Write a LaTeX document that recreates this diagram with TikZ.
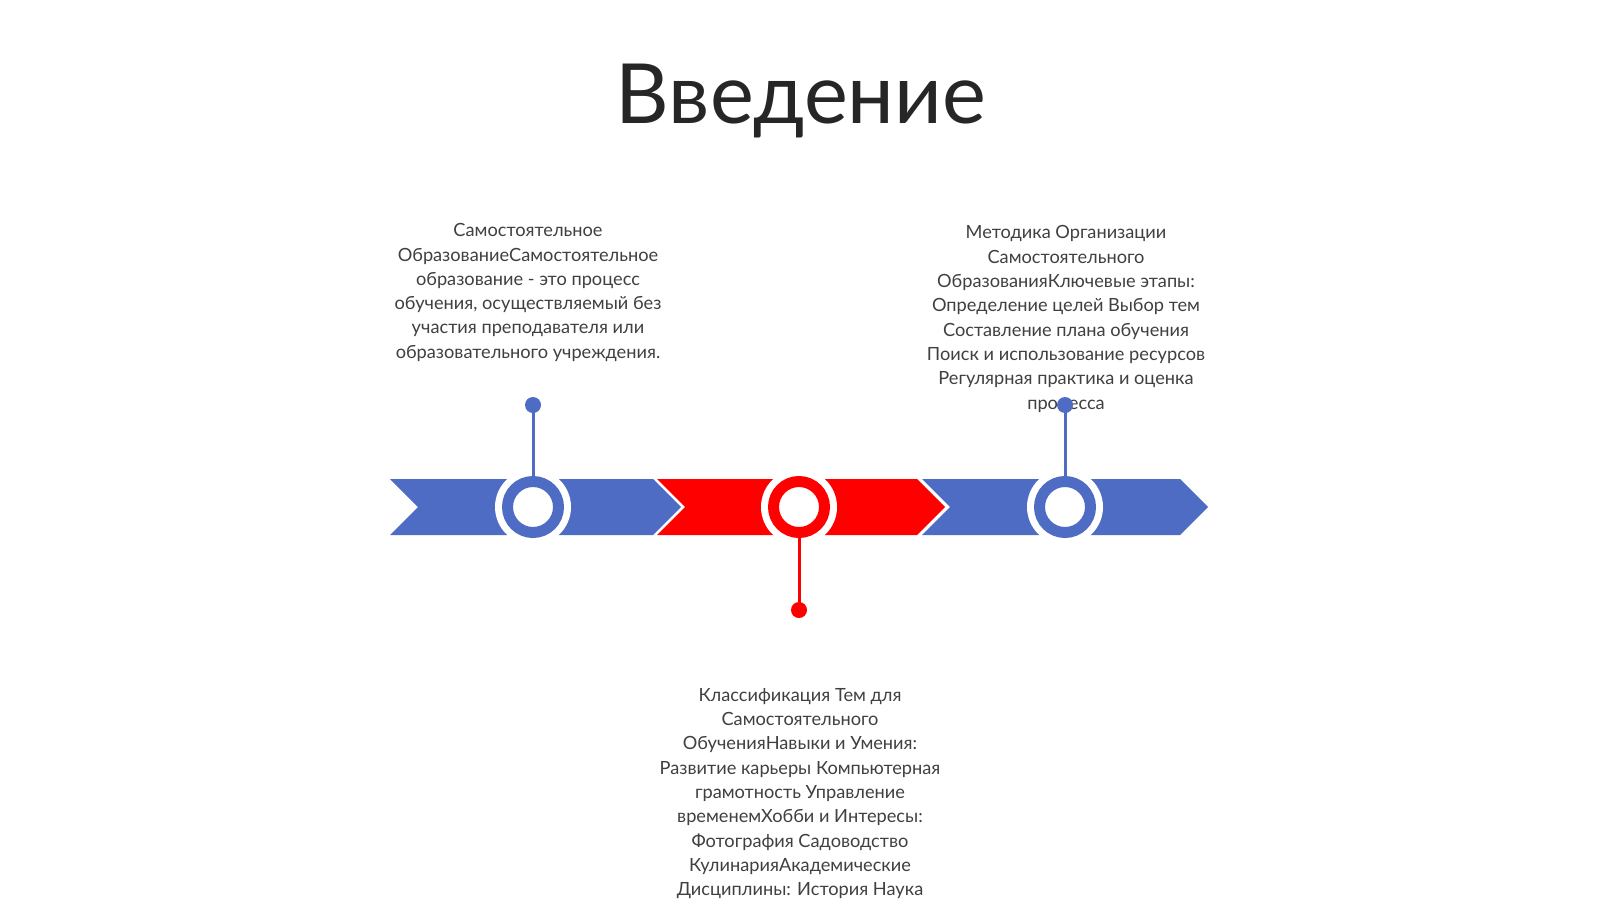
\documentclass[tikz,border=0pt]{standalone}
\usepackage{fontspec}
\setmainfont{Lato}
\definecolor{tlblue}{RGB}{79,108,196}
\definecolor{tlred}{RGB}{255,0,0}
\definecolor{titlegray}{RGB}{38,38,38}
\definecolor{textgray}{RGB}{64,64,64}
\begin{document}
\begin{tikzpicture}[x=1pt,y=-1pt,
  seg/.style={draw=none},
  ringnode/.style={circle, inner sep=0pt, minimum size=51pt, line width=11pt, fill=white},
  halo/.style={circle, inner sep=0pt, minimum size=76pt, fill=white},
  dotnode/.style={circle, inner sep=0pt, minimum size=16pt},
  stem/.style={line width=3pt},
  body/.style={align=center, text=textgray, font=\fontsize{18.2}{24.3}\selectfont, inner sep=0pt}
]
\useasboundingbox (0,0) rectangle (1600,899);
\fill[white] (0,0) rectangle (1600,899);

% title
\node[anchor=base, text=titlegray, font=\fontsize{83}{90}\selectfont, inner sep=0pt] (title) at (801,123) {Введение};

% band segments
\fill[tlblue] (390,479) -- (653,479) -- (681,507) -- (653,535) -- (390,535) -- (418,507) -- cycle;
\fill[tlred] (657,479) -- (917,479) -- (945,507) -- (917,535) -- (657,535) -- (685,507) -- cycle;
\fill[tlblue] (922,479) -- (1180,479) -- (1208,507) -- (1180,535) -- (922,535) -- (950,507) -- cycle;

% circles
\node[halo] (h1) at (533,507) {};
\node[halo] (h2) at (799,507) {};
\node[halo] (h3) at (1065,507) {};
\node[ringnode, draw=tlblue] (c1) at (533,507) {};
\node[ringnode, draw=tlred] (c2) at (799,507) {};
\node[ringnode, draw=tlblue] (c3) at (1065,507) {};

% texts
\node[body] (t1) at (528,292.5) {Самостоятельное\\ОбразованиеСамостоятельное\\образование - это процесс\\обучения, осуществляемый без\\участия преподавателя или\\образовательного учреждения.};
\node[body] (t3) at (1066,319) {Методика Организации\\Самостоятельного\\ОбразованияКлючевые этапы:\\Определение целей Выбор тем\\Составление плана обучения\\Поиск и использование ресурсов\\Регулярная практика и оценка\\процесса};
\node[body] (t2) at (800,793.5) {Классификация Тем для\\Самостоятельного\\ОбученияНавыки и Умения:\\Развитие карьеры Компьютерная\\грамотность Управление\\временемХобби и Интересы:\\Фотография Садоводство\\КулинарияАкадемические\\Дисциплины: История Наука};

% stems and dots
\node[dotnode, fill=tlblue] (d1) at (533,405) {};
\node[dotnode, fill=tlred] (d2) at (799,610) {};
\node[dotnode, fill=tlblue] (d3) at (1065,405) {};
\draw[stem, tlblue] (c1.north) -- (d1.center);
\draw[stem, tlred] (c2.south) -- (d2.center);
\draw[stem, tlblue] (c3.north) -- (d3.center);
\end{tikzpicture}
\end{document}
